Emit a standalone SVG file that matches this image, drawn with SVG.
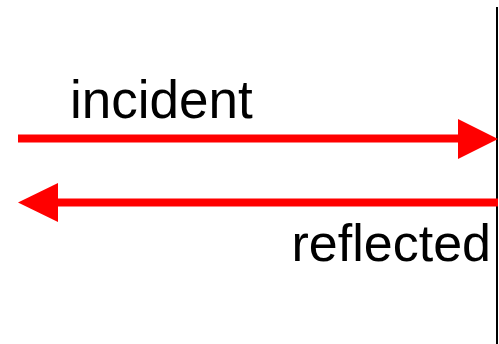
<svg xmlns="http://www.w3.org/2000/svg" width="499" height="344" viewBox="0 0 499 344">
<style>
.lbl{font-family:"Liberation Sans",Arial,sans-serif;font-size:52px;fill:#000}
.ray{stroke:#ff0000;stroke-width:8;fill:none}
.head{fill:#ff0000}
</style>
<rect width="499" height="344" fill="#fff"/>
<g id="mirror"><line x1="497" y1="7" x2="497" y2="344" stroke="#000" stroke-width="2"/></g>
<g id="labels">
<text id="incident-label" class="lbl" x="70" y="118" style="font-size:53px">incident</text>
<text id="reflected-label" class="lbl" x="491" y="261" text-anchor="end">reflected</text>
</g>
<g id="connectors">
<g id="incident"><line class="ray" x1="18" y1="138.5" x2="460" y2="138.5"/><polygon class="head" points="458,119 498,139 458,159"/></g>
<g id="reflected"><line class="ray" x1="56" y1="202.5" x2="498" y2="202.5"/><polygon class="head" points="18,202.5 58,183 58,222"/></g>
</g>
</svg>
